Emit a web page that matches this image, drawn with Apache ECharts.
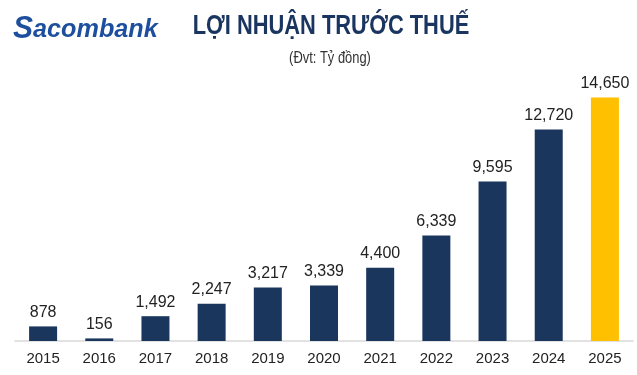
<!DOCTYPE html>
<html><head><meta charset="utf-8">
<script src="https://cdn.jsdelivr.net/npm/echarts@6/dist/echarts.min.js"></script>
<style>html,body{margin:0;padding:0;background:#fff}#c{width:637px;height:375px}</style>
</head><body><div id="c"></div>
<script>
var years = ['2015','2016','2017','2018','2019','2020','2021','2022','2023','2024','2025'];
var profit = [878,156,1492,2247,3217,3339,4400,6339,9595,12720,14650];
var barColors = ['#1a365d','#1a365d','#1a365d','#1a365d','#1a365d','#1a365d','#1a365d','#1a365d','#1a365d','#1a365d','#ffc000'];
var titleText = 'LỢI NHUẬN TRƯỚC THUẾ';
var subText = '(Đvt: Tỷ đồng)';

var chart = echarts.init(document.getElementById('c'));
chart.setOption({
  animation: false,
  backgroundColor: '#fff',
  graphic: [{
    type: 'text', x: 13, y: 14, scaleX: 0.97,
    style: {
      text: '{s|S}{r|acombank}',
      rich: {
        s: {fontFamily: '"Liberation Sans", Arial', fontWeight: 'bold', fontStyle: 'italic', fontSize: 31, fill: '#1d4f9e'},
        r: {fontFamily: '"Liberation Sans", Arial', fontWeight: 'bold', fontStyle: 'italic', fontSize: 26, fill: '#1d4f9e'}
      }
    }
  }, {
    type: 'text', x: 331, y: 27, scaleX: 0.81,
    style: {
      text: titleText, align: 'center', verticalAlign: 'middle',
      fontFamily: '"Liberation Sans", Arial', fontWeight: 'bold', fontSize: 27, fill: '#1a3560'
    }
  }, {
    type: 'text', x: 330, y: 58, scaleX: 0.76,
    style: {
      text: subText, align: 'center', verticalAlign: 'middle',
      fontFamily: '"Liberation Sans", Arial', fontSize: 17, fill: '#333'
    }
  }],
  grid: {left: 15, right: 4, top: 75, bottom: 34},
  xAxis: {
    type: 'category', data: years,
    axisLine: {lineStyle: {color: '#d9d9d9', width: 1.5}},
    axisTick: {show: false},
    axisLabel: {color: '#222', fontSize: 15, fontFamily: '"Liberation Sans", Arial', margin: 10}
  },
  yAxis: {type: 'value', min: 0, max: 16000, show: false, splitLine: {show: false}},
  series: [{
    type: 'bar', barWidth: 28,
    data: profit.map(function(v, i){ return {value: v, itemStyle: {color: barColors[i]}}; }),
    label: {
      show: true, position: 'top', distance: 6,
      color: '#222', fontSize: 16, fontFamily: '"Liberation Sans", Arial',
      formatter: function(p){ return p.value.toLocaleString('en-US'); }
    }
  }]
});
</script></body></html>
